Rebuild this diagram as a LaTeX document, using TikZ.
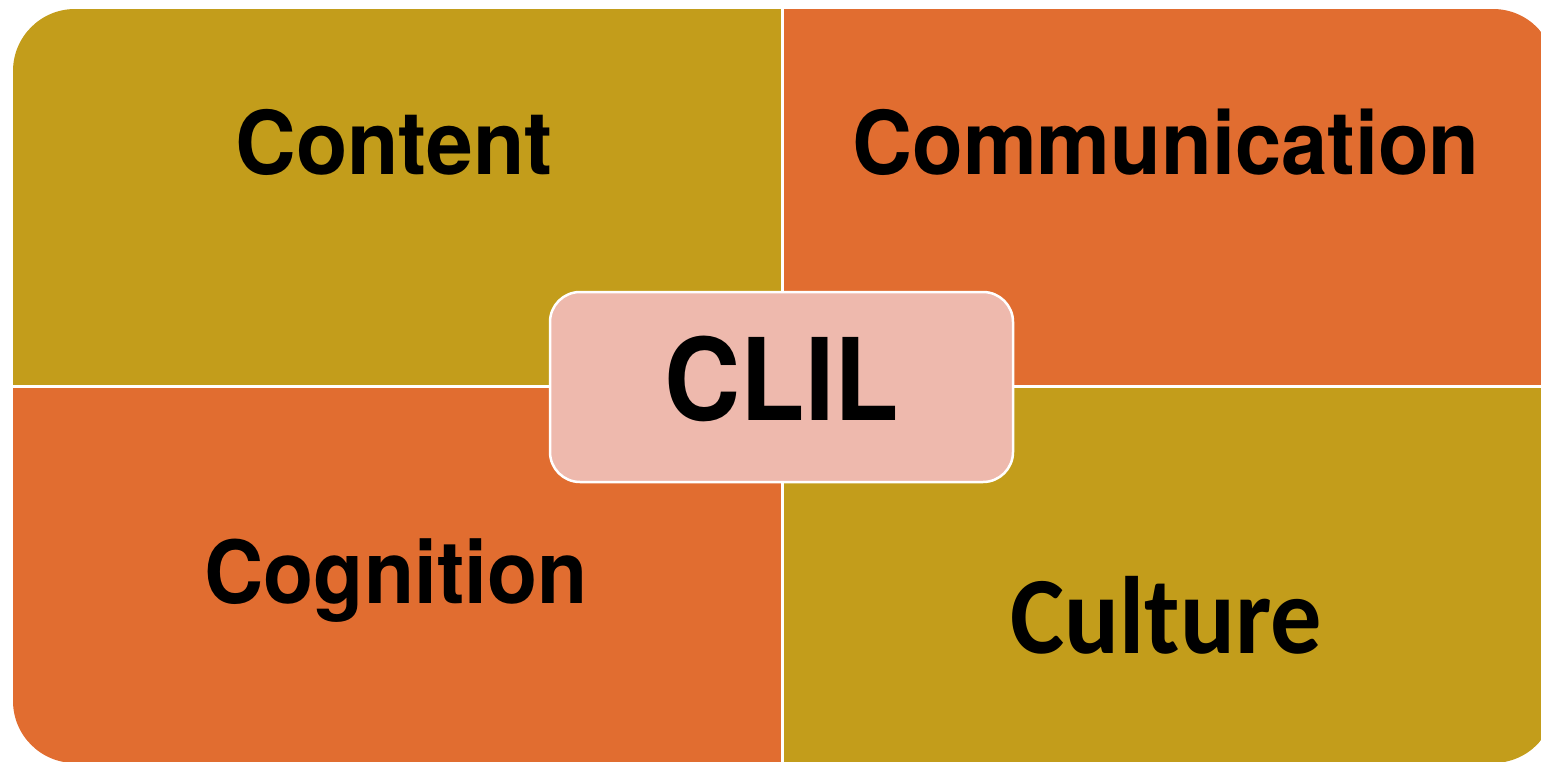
\documentclass[tikz,border=0pt]{standalone}
\usepackage{fontspec}
\setmainfont{TeX Gyre Heros}
\newfontfamily\culturefont{Carlito}
\definecolor{olivequad}{RGB}{195,157,27}
\definecolor{orangequad}{RGB}{225,109,48}
\definecolor{pinkbox}{RGB}{238,185,173}
\tikzset{
  quadlabel/.style={anchor=base, inner sep=0pt, text=black, font=\bfseries},
  divider/.style={draw=white, line width=3pt},
}
\begin{document}
\begin{tikzpicture}[x=1pt,y=-1pt]
\useasboundingbox (0,0) rectangle (1541,762);
\clip (0,0) rectangle (1541,762);
\begin{scope}
  \clip[rounded corners=62pt] (13,9) rectangle (1555,763);
  \fill[olivequad] (13,9) rectangle (782,386);
  \fill[orangequad] (782,9) rectangle (1555,386);
  \fill[orangequad] (13,386) rectangle (782,763);
  \fill[olivequad] (782,386) rectangle (1555,763);
\end{scope}
\coordinate (vtop) at (782,0);
\coordinate (vbot) at (782,770);
\coordinate (hleft) at (0,386);
\coordinate (hright) at (1560,386);
\draw[divider] (vtop) -- (vbot);
\draw[divider] (hleft) -- (hright);
\draw[fill=pinkbox, draw=white, line width=2.5pt, rounded corners=30pt] (550,292) rectangle (1013,482);
\node[quadlabel] (content) at (394,175) {\fontsize{88}{90}\selectfont\scalebox{0.955}[1]{Content}};
\node[quadlabel] (communication) at (1166,175) {\fontsize{88}{90}\selectfont\scalebox{0.943}[1]{Communication}};
\node[quadlabel] (cognition) at (396,603) {\fontsize{87}{90}\selectfont\scalebox{0.943}[1]{Cognition}};
\node[quadlabel] (culture) at (1166,653) {\culturefont\fontsize{110}{112}\selectfont\scalebox{0.93}[1]{Culture}};
\node[quadlabel] (clil) at (782,420) {\fontsize{114}{116}\selectfont\scalebox{0.925}[1]{CLIL}};
\end{tikzpicture}
\end{document}
